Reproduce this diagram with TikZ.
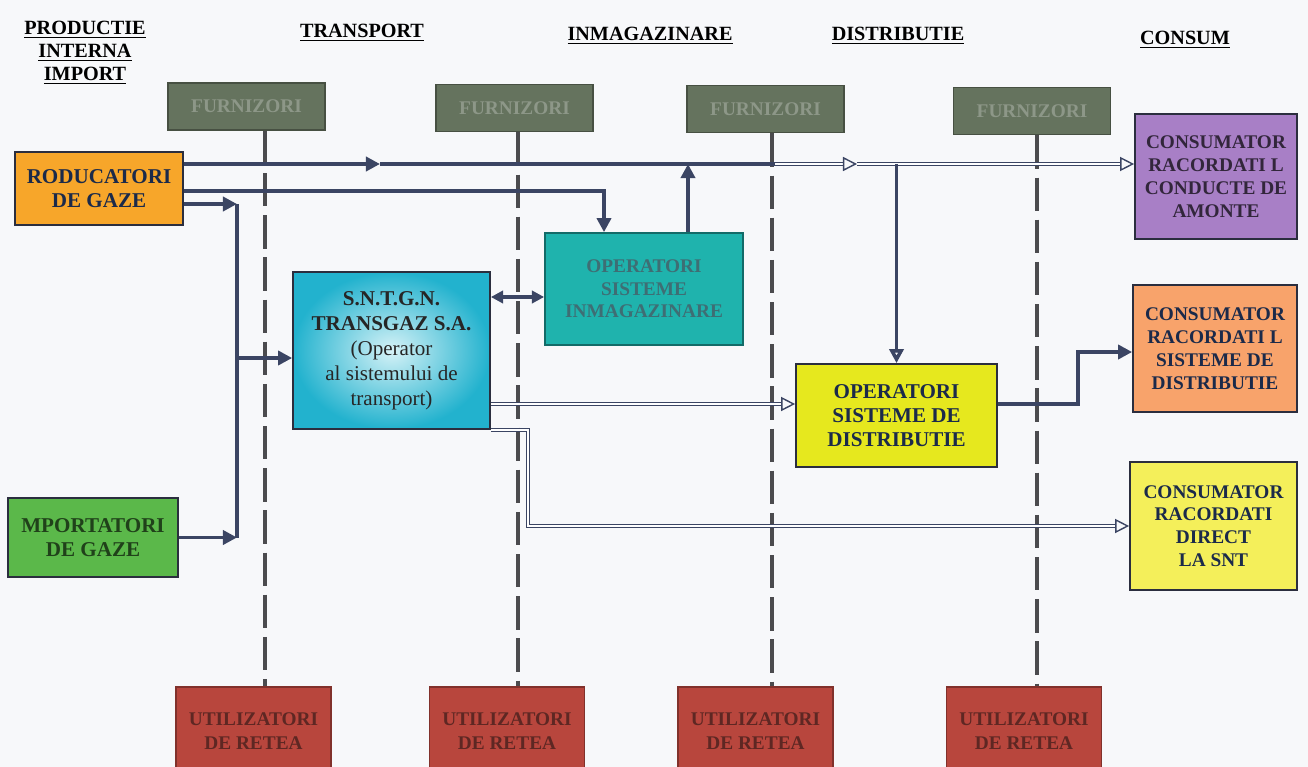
\documentclass[tikz,border=0pt]{standalone}
\usepackage{fontspec}
\setmainfont{Liberation Serif}
\usetikzlibrary{arrows.meta}
\definecolor{bgc}{HTML}{F7F8FA}
\definecolor{boxline}{HTML}{2B2E3E}
\definecolor{flowc}{HTML}{3B4563}
\definecolor{dashc}{HTML}{4B4B4E}
\definecolor{furngreen}{HTML}{65735E}
\definecolor{furntext}{HTML}{8D9788}
\definecolor{utilred}{HTML}{B8463D}
\definecolor{utiltext}{HTML}{5E2723}
\definecolor{prodorange}{HTML}{F7A62A}
\definecolor{impgreen}{HTML}{5BB84A}
\definecolor{tgcyan}{HTML}{22B2CE}
\definecolor{tglight}{HTML}{D6F2F7}
\definecolor{storteal}{HTML}{1FB3AD}
\definecolor{stortext}{HTML}{3E6E74}
\definecolor{distyellow}{HTML}{E6E81E}
\definecolor{conspurple}{HTML}{A87FC6}
\definecolor{consorange}{HTML}{F8A36B}
\definecolor{consyellow}{HTML}{F4EF5A}
\definecolor{navytext}{HTML}{1B2A4A}
\begin{document}
\begin{tikzpicture}
[x=0.02cm,y=-0.02cm,%
  box/.style={shape=rectangle,draw=boxline,line width=1pt,align=center,inner sep=2pt,%
    font=\bfseries\fontsize{12}{13.5}\selectfont},%
  furnbox/.style={box,draw=furngreen!70!black,fill=furngreen,text=furntext,%
    minimum width=3.14cm,minimum height=0.94cm,font=\bfseries\fontsize{11}{13}\selectfont},%
  utilbox/.style={box,draw=utilred!70!black,fill=utilred,text=utiltext,%
    minimum width=3.1cm,minimum height=1.76cm,font=\bfseries\fontsize{11}{14}\selectfont},%
  head/.style={align=center,font=\bfseries\fontsize{11.5}{13}\selectfont},%
  dashline/.style={-,draw=dashc,line width=2.8pt,dash pattern=on 19pt off 5pt},%
  flow/.style={draw=flowc,line width=2.1pt,-{Triangle[width=8pt,length=8pt]}},%
  line/.style={draw=flowc,line width=2.1pt,-},%
  dflow/.style={draw=flowc,double=white,double distance=1pt,line width=0.8pt,%
    -{Triangle[open,width=8pt,length=8pt]}}]
%% page
\fill[bgc] (0,0) rectangle (1308,767);
\useasboundingbox (0,0) rectangle (1308,767);
%% headings
\node (hprod) at (85,53) [head] {\underline{PRODUCTIE}\\\underline{INTERNA}\\\underline{IMPORT}};
\node (htrans) at (362,33) [head] {\underline{TRANSPORT}};
\node (hstor) at (650,36) [head] {\underline{INMAGAZINARE}};
\node (hdist) at (898,36) [head] {\underline{DISTRIBUTIE}};
\node (hcons) at (1185,40) [head] {\underline{CONSUM}};
%% furnizori and utilizatori
\foreach \nodename/\x/\y in {f1/246.5/106.5, f2/514.5/108, f3/765.5/109, f4/1032/111} {
  \node (\nodename) at (\x,\y) [furnbox] {FURNIZORI};
}
\foreach \nodename/\x in {u1/253.5, u2/507, u3/755.5, u4/1024} {
  \node (\nodename) at (\x,731) [utilbox] {UTILIZATORI\\DE RETEA};
}
\foreach \i/\x in {1/265, 2/518, 3/772, 4/1037} {
  \coordinate (d\i) at (\x,0);
}
\path
\foreach \topnode/\botnode/\i in {f1/u1/1, f2/u2/2, f3/u3/3, f4/u4/4} {
  (\topnode.south -| d\i) edge[dashline] (\botnode.north -| d\i)
};
%% main boxes
\node (prod) at (99,188.5) [box,fill=prodorange,text=navytext,minimum width=3.36cm,minimum height=1.46cm]
  {RODUCATORI\\DE GAZE};
\node (imp) at (93,537.5) [box,fill=impgreen,text=impgreen!35!black,minimum width=3.4cm,minimum height=1.58cm]
  {MPORTATORI\\DE GAZE};
\node (tg) at (391.5,350.5) [box,inner color=tglight,outer color=tgcyan,text=black!85,
  minimum width=3.94cm,minimum height=3.14cm,font=\fontsize{12}{14.2}\selectfont]
  {{\bfseries S.N.T.G.N.}\\{\bfseries TRANSGAZ S.A.}\\(Operator\\al sistemului de\\transport)};
\node (stor) at (644,289) [box,draw=storteal!60!black,fill=storteal,text=stortext,minimum width=3.96cm,
  minimum height=2.24cm,font=\bfseries\fontsize{11}{12.8}\selectfont] {OPERATORI\\SISTEME\\INMAGAZINARE};
\node (dist) at (896.5,415.5) [box,fill=distyellow,text=navytext,minimum width=4.02cm,minimum height=2.06cm]
  {OPERATORI\\SISTEME DE\\DISTRIBUTIE};
\node (cpur) at (1216,176.5) [box,fill=conspurple,text=black!70!conspurple,minimum width=3.24cm,
  minimum height=2.5cm,font=\bfseries\fontsize{11}{13}\selectfont] {CONSUMATOR\\RACORDATI L\\CONDUCTE DE\\AMONTE};
\node (corg) at (1215,348.5) [box,fill=consorange,text=navytext,minimum width=3.28cm,
  minimum height=2.54cm,font=\bfseries\fontsize{11}{13}\selectfont] {CONSUMATOR\\RACORDATI L\\SISTEME DE\\DISTRIBUTIE};
\node (cyel) at (1213.5,526) [box,fill=consyellow,text=navytext,minimum width=3.34cm,
  minimum height=2.56cm,font=\bfseries\fontsize{11}{13}\selectfont] {CONSUMATOR\\RACORDATI\\DIRECT\\LA SNT};
%% helper rows and columns
\coordinate (r1) at (0,164);
\coordinate (r2) at (0,191);
\coordinate (r3) at (0,204);
\coordinate (r4) at (0,358);
\coordinate (r5) at (0,297);
\coordinate (r6) at (0,404);
\coordinate (j1) at (380,0);
\coordinate (j2) at (775,0);
\coordinate (j3) at (857,0);
\coordinate (s1) at (688,0);
\coordinate (s2) at (604,0);
\coordinate (v) at (237,0);
\coordinate (c1) at (528,0);
\coordinate (c2) at (1078,0);
\coordinate (c3) at (0,352);
%% top line to consumers upstream
\draw[flow] (prod.east |- r1) -- (j1 |- r1);
\draw[line] (j1 |- r1) -- (j2 |- r1);
\draw[dflow] (j2 |- r1) -- (j3 |- r1);
\draw[dflow] (j3 |- r1) -- (cpur.west |- r1);
\draw[flow,-{Triangle[open,width=8pt,length=8pt]}] (dist.north |- r1) -- (dist.north);
\draw[flow] (stor.north -| s1) -- (s1 |- r1);
%% producers to storage
\draw[flow] (prod.east |- r2) -- (s2 |- r2) -- (stor.north -| s2);
%% producers and importers to transport
\draw[flow] (prod.east |- r3) -- (v |- r3);
\draw[line] (v |- r3) -- (v |- imp.east);
\draw[flow] (imp.east) -- (v |- imp.east);
\draw[flow] (v |- r4) -- (tg.west |- r4);
%% transport links
\draw[flow,{Triangle[width=7pt,length=7pt]}-{Triangle[width=7pt,length=7pt]}] (tg.east |- r5) -- (stor.west |- r5);
\draw[dflow] (tg.east |- r6) -- (dist.west |- r6);
\draw[dflow] (tg.south east) -- (c1 |- tg.south east) -- (c1 |- cyel.west) -- (cyel.west);
\draw[flow] (dist.east |- r6) -- (c2 |- r6) -- (c2 |- c3) -- (corg.west |- c3);
\end{tikzpicture}
\end{document}
